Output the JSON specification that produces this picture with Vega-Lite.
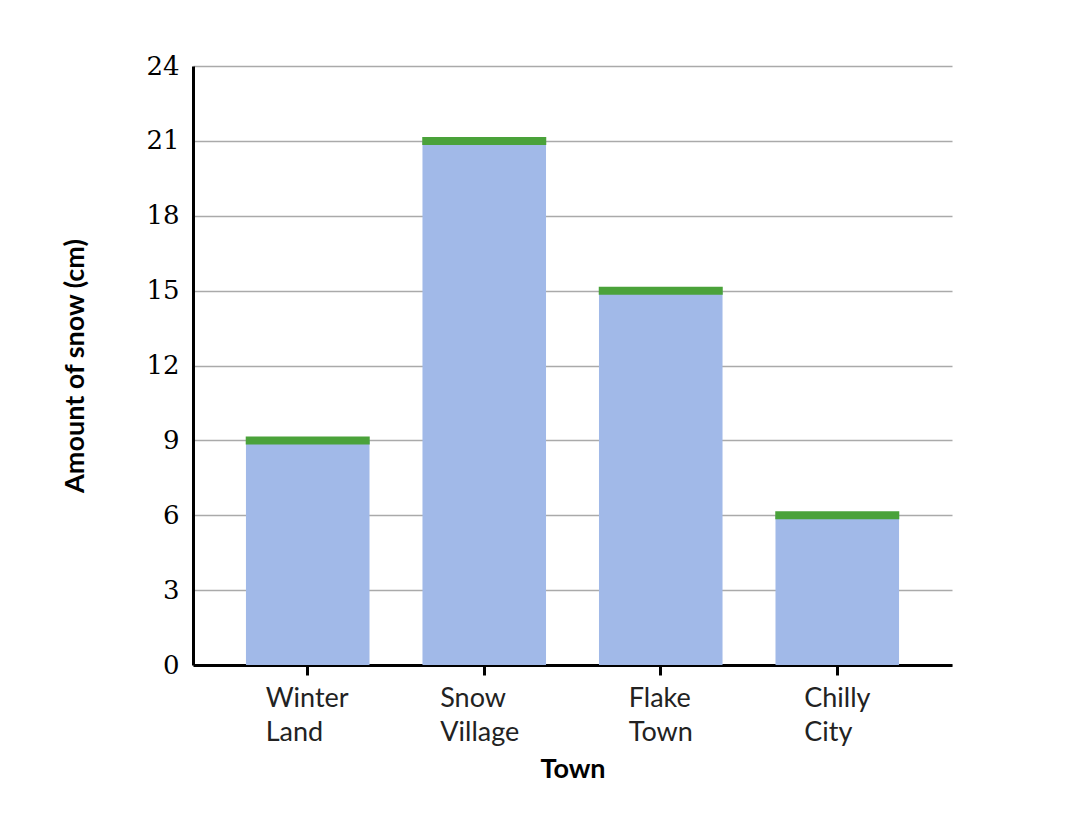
{
  "$schema": "https://vega.github.io/schema/vega-lite/v6.json",
  "width": 759,
  "height": 599,
  "autosize": {"type": "none"},
  "padding": {"left": 193, "top": 66, "right": 132, "bottom": 161},
  "background": "white",
  "data": {
    "values": [
      {"town": "Winter Land", "snow": 9},
      {"town": "Snow Village", "snow": 21},
      {"town": "Flake Town", "snow": 15},
      {"town": "Chilly City", "snow": 6}
    ]
  },
  "config": {
    "view": {"stroke": null},
    "axis": {"titleFont": "Lato", "labelFont": "Lato"}
  },
  "encoding": {
    "x": {
      "field": "town",
      "type": "nominal",
      "sort": null,
      "scale": {"paddingInner": 0.3, "paddingOuter": 0.3},
      "axis": {
        "title": "Town",
        "titleFontSize": 27,
        "titleFontWeight": "bold",
        "titleColor": "#000",
        "titlePadding": 11,
        "labelAngle": 0,
        "labelFontSize": 27,
        "labelColor": "#222",
        "labelLineHeight": 34,
        "labelExpr": "split(datum.label, ' ')",
        "labelAlign": "left",
        "labelOffset": {
          "condition": [
            {"test": "datum.value == 'Winter Land'", "value": -42},
            {"test": "datum.value == 'Snow Village'", "value": -44},
            {"test": "datum.value == 'Flake Town'", "value": -32}
          ],
          "value": -33
        },
        "labelPadding": 10,
        "domainColor": "#000",
        "domainWidth": 3,
        "tickColor": "#000",
        "tickWidth": 3,
        "tickSize": 10,
        "grid": false
      }
    }
  },
  "layer": [
    {
      "mark": {"type": "bar", "color": "#a1b9e8"},
      "encoding": {
        "y": {
          "field": "snow",
          "type": "quantitative",
          "scale": {"domain": [0, 24]},
          "axis": {
            "title": "Amount of snow (cm)",
            "titleFontSize": 27,
            "titleFontWeight": "bold",
            "titleColor": "#000",
            "titlePadding": 56,
            "values": [0, 3, 6, 9, 12, 15, 18, 21, 24],
            "labelFont": "DejaVu Serif",
            "labelFontSize": 26,
            "labelColor": "#000",
            "labelPadding": 14,
            "ticks": false,
            "domainColor": "#000",
            "domainWidth": 3,
            "gridColor": "#aaaaaa",
            "gridWidth": 1.5
          }
        }
      }
    },
    {
      "mark": {"type": "tick", "color": "#4aa23a", "orient": "horizontal", "size": 124, "thickness": 8, "opacity": 1},
      "encoding": {
        "y": {"field": "snow", "type": "quantitative"}
      }
    }
  ]
}
